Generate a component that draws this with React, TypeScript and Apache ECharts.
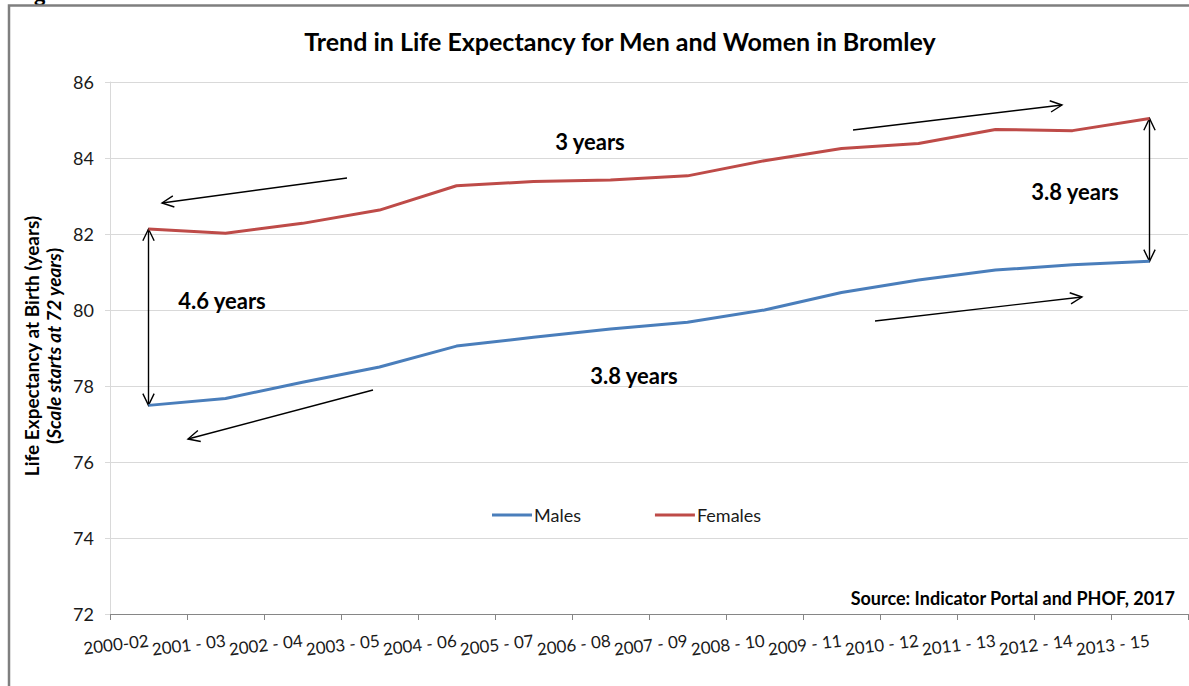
import React, { useEffect, useRef } from "react";
import * as echarts from "echarts";

const categories = [
  "2000-02", "2001 - 03", "2002 - 04", "2003 - 05", "2004 - 06", "2005 - 07", "2006 - 08",
  "2007 - 09", "2008 - 10", "2009 - 11", "2010 - 12", "2011 - 13", "2012 - 14", "2013 - 15",
];
const males = [77.49, 77.67, 78.1, 78.5, 79.05, 79.28, 79.5, 79.68, 80.0, 80.46, 80.79, 81.05, 81.19, 81.28];
const females = [82.13, 82.02, 82.28, 82.63, 83.27, 83.38, 83.42, 83.53, 83.93, 84.25, 84.38, 84.75, 84.72, 85.04];
const yTicks = { min: 72, max: 86, interval: 2 };

const FONT = "Lato";
const TXT = "#1a1a1a";

function head(x: number, y: number, fromX: number, fromY: number, len = 13, half = 0.45) {
  const a = Math.atan2(fromY - y, fromX - x);
  return [
    [x + len * Math.cos(a + half), y + len * Math.sin(a + half)],
    [x, y],
    [x + len * Math.cos(a - half), y + len * Math.sin(a - half)],
  ];
}

function arrow(x1: number, y1: number, x2: number, y2: number, both = false) {
  const s = { stroke: "#000", lineWidth: 1.4, fill: "none" };
  const els: any[] = [
    { type: "line", shape: { x1, y1, x2, y2 }, style: s, silent: true },
    { type: "polyline", shape: { points: head(x2, y2, x1, y1) }, style: s, silent: true },
  ];
  if (both) els.push({ type: "polyline", shape: { points: head(x1, y1, x2, y2) }, style: s, silent: true });
  return els;
}

function label(text: string, x: number, y: number) {
  return {
    type: "text",
    x,
    y,
    silent: true,
    style: { text, fill: "#000", font: `bold 22px ${FONT}`, align: "center", verticalAlign: "middle" },
  };
}

export default function App() {
  const ref = useRef<HTMLDivElement>(null);
  useEffect(() => {
    const chart = echarts.init(ref.current!, null, { renderer: "svg" });
    const option: any = {
      animation: false,
      backgroundColor: "#fff",
      title: {
        text: "Trend in Life Expectancy for Men and Women in Bromley",
        left: 615,
        top: 23,
        textAlign: "center",
        textStyle: { fontFamily: FONT, fontWeight: "bold", fontSize: 25, color: "#000" },
      },
      grid: { left: 110, right: 1, top: 82, bottom: 72, containLabel: false },
      legend: {
        left: 492,
        top: 506,
        padding: 0,
        itemWidth: 40,
        itemHeight: 3,
        itemGap: 74,
        icon: "rect",
        textStyle: { fontFamily: FONT, fontSize: 18, color: TXT, padding: [0, 0, 0, -3] },
        data: ["Males", "Females"],
      },
      xAxis: {
        type: "category",
        data: categories,
        boundaryGap: true,
        axisLine: { lineStyle: { color: "#868686", width: 1 } },
        axisTick: { show: true, length: 6, lineStyle: { color: "#868686" } },
        axisLabel: { rotate: 7, margin: 26, fontFamily: FONT, fontSize: 17, color: TXT, interval: 0 },
        splitLine: { show: false },
      },
      yAxis: {
        type: "value",
        min: yTicks.min,
        max: yTicks.max,
        interval: yTicks.interval,
        axisLine: { show: true, lineStyle: { color: "#d9d9d9" } },
        axisTick: { show: true, length: 5, lineStyle: { color: "#d9d9d9" } },
        axisLabel: { margin: 16, fontFamily: FONT, fontSize: 18, color: TXT },
        splitLine: { lineStyle: { color: "#d9d9d9", width: 1 } },
      },
      series: [
        {
          name: "Males",
          type: "line",
          data: males,
          symbol: "none",
          lineStyle: { color: "#4a7ebb", width: 3 },
          itemStyle: { color: "#4a7ebb" },
        },
        {
          name: "Females",
          type: "line",
          data: females,
          symbol: "none",
          lineStyle: { color: "#be4b48", width: 3 },
          itemStyle: { color: "#be4b48" },
        },
      ],
    };
    chart.setOption(option);

    const pf0 = chart.convertToPixel({ gridIndex: 0 }, [0, females[0]]) as number[];
    const pm0 = chart.convertToPixel({ gridIndex: 0 }, [0, males[0]]) as number[];
    const last = categories.length - 1;
    const pfL = chart.convertToPixel({ gridIndex: 0 }, [last, females[last]]) as number[];
    const pmL = chart.convertToPixel({ gridIndex: 0 }, [last, males[last]]) as number[];

    const graphic: any[] = [
      {
        type: "rect",
        shape: { x: 9, y: 5.5, width: 1300, height: 800 },
        style: { fill: "none", stroke: "#7f7f7f", lineWidth: 2.5 },
        silent: true,
        z: 100,
      },
      {
        type: "text",
        x: 34,
        y: 4,
        silent: true,
        style: { text: "g", fill: "#000", font: `bold 22px ${FONT}`, verticalAlign: "bottom" },
      },
      {
        type: "text",
        x: 42,
        y: 346,
        rotation: Math.PI / 2,
        silent: true,
        style: {
          text: "{b|Life Expectancy at Birth (years)}\n{b|(}{i|Scale starts at 72 years}{b|)}",
          align: "center",
          verticalAlign: "middle",
          lineHeight: 22,
          rich: {
            b: { font: `bold 19px ${FONT}`, fill: "#000", lineHeight: 22 },
            i: { font: `italic bold 19px ${FONT}`, fill: "#000", lineHeight: 22 },
          },
        },
      },
      {
        type: "text",
        x: 1175,
        y: 598,
        silent: true,
        style: {
          text: "Source: Indicator Portal and PHOF, 2017",
          fill: "#000",
          font: `bold 18px ${FONT}`,
          align: "right",
          verticalAlign: "middle",
        },
      },
      label("3 years", 590, 141),
      label("4.6 years", 222, 300),
      label("3.8 years", 634, 375),
      label("3.8 years", 1075, 191),
      ...arrow(347, 178, 162, 203),
      ...arrow(373, 390, 188, 439),
      ...arrow(853, 130, 1062, 105),
      ...arrow(875, 321, 1082, 297),
      ...arrow(pf0[0], pf0[1], pm0[0], pm0[1], true),
      ...arrow(pfL[0], pfL[1], pmL[0], pmL[1], true),
    ];
    chart.setOption({ graphic });

    return () => chart.dispose();
  }, []);
  return <div ref={ref} style={{ position: "fixed", left: 0, top: 0, width: 1189, height: 686 }} />;
}
